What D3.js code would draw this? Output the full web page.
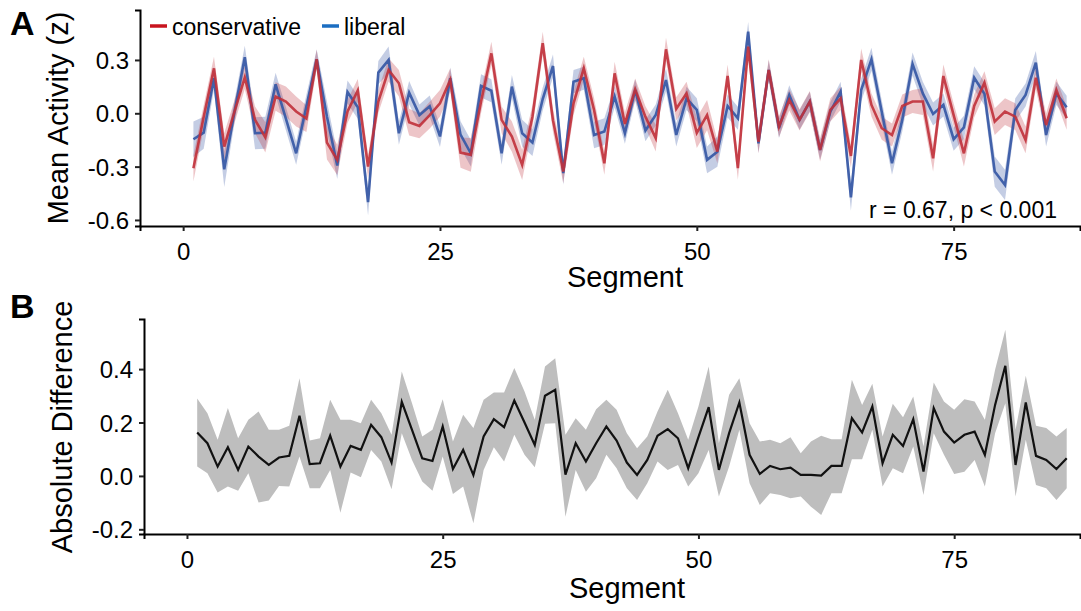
<!DOCTYPE html>
<html>
<head>
<meta charset="utf-8">
<script src="https://cdn.jsdelivr.net/npm/d3@7"></script>
<style>
    body { margin: 0; background: #fff; }
    svg { font-family: "Liberation Sans", Arial, Helvetica, sans-serif; }
</style>
</head>
<body>
<div id="chart"></div>
<script>
// segments 1..86
var segments = d3.range(1, 87);

var conservative = [-0.309,-0.02,0.253,-0.187,0.01,0.202,-0.037,-0.135,0.094,0.066,
    0.01,-0.03,0.304,-0.165,-0.262,0.01,0.128,-0.30,0.066,0.244,
    0.169,-0.05,-0.071,-0.01,0.056,0.187,-0.221,-0.234,0.066,0.337,
    -0.037,-0.131,-0.29,-0.019,0.394,-0.04,-0.328,0.056,0.253,0.019,
    -0.281,0.225,-0.06,0.135,-0.02,-0.14,0.36,0.025,0.112,-0.11,
    -0.01,-0.216,0.21,-0.309,0.375,-0.16,0.244,-0.075,0.075,-0.037,
    0.066,-0.206,0.019,0.084,-0.24,0.3,0.047,-0.084,-0.122,0.041,
    0.066,0.066,-0.253,0.21,-0.01,-0.225,0.041,0.172,-0.047,0.009,
    -0.019,-0.15,0.2,-0.066,0.131,-0.028];

var conservativeSE = [0.075,0.065,0.065,0.075,0.065,0.065,0.075,0.085,0.08,0.085,
    0.085,0.075,0.055,0.095,0.085,0.065,0.065,0.065,0.065,0.065,
    0.075,0.075,0.07,0.075,0.075,0.065,0.085,0.095,0.065,0.065,
    0.075,0.085,0.085,0.065,0.065,0.065,0.065,0.065,0.065,0.065,
    0.065,0.065,0.065,0.06,0.06,0.075,0.065,0.065,0.065,0.085,
    0.085,0.065,0.065,0.065,0.065,0.065,0.06,0.06,0.06,0.06,
    0.06,0.065,0.065,0.065,0.065,0.065,0.065,0.065,0.065,0.065,
    0.065,0.075,0.075,0.065,0.065,0.075,0.065,0.065,0.075,0.075,
    0.075,0.075,0.065,0.065,0.065,0.065];

var liberal = [-0.146,-0.109,0.197,-0.315,0.01,0.315,-0.112,-0.109,0.163,-0.03,
    -0.225,0.04,0.304,-0.02,-0.294,0.12,0.034,-0.50,0.229,0.30,
    -0.112,0.116,-0.01,0.04,-0.13,0.197,-0.12,-0.225,0.154,0.127,
    -0.225,0.15,-0.112,-0.165,0.08,0.266,-0.337,0.178,0.197,-0.122,
    -0.103,0.094,-0.112,0.131,-0.097,-0.01,0.187,-0.122,0.084,0.019,
    -0.262,-0.216,0.041,-0.028,0.459,-0.169,0.244,-0.084,0.103,-0.037,
    0.066,-0.206,0.009,0.122,-0.473,0.131,0.304,0.009,-0.281,-0.037,
    0.277,0.112,-0.004,0.047,-0.146,-0.079,0.2,0.109,-0.328,-0.403,
    0.019,0.103,0.285,-0.122,0.112,0.034];

var liberalSE = [0.1,0.09,0.065,0.1,0.065,0.065,0.09,0.09,0.065,0.065,
    0.065,0.065,0.055,0.085,0.075,0.065,0.065,0.075,0.065,0.075,
    0.065,0.065,0.06,0.06,0.06,0.06,0.075,0.075,0.065,0.065,
    0.065,0.065,0.075,0.075,0.065,0.065,0.065,0.065,0.065,0.075,
    0.075,0.06,0.06,0.06,0.06,0.06,0.065,0.065,0.065,0.065,
    0.075,0.085,0.065,0.065,0.055,0.055,0.055,0.055,0.055,0.055,
    0.055,0.055,0.055,0.055,0.075,0.065,0.065,0.065,0.065,0.065,
    0.065,0.065,0.065,0.065,0.065,0.065,0.065,0.065,0.085,0.085,
    0.065,0.065,0.065,0.065,0.065,0.065];

var absDiff = [0.1625,0.1225,0.035,0.1075,0.0225,0.11,0.0725,0.041,0.069,0.075,
    0.225,0.044,0.0475,0.151,0.035,0.1125,0.0975,0.191,0.145,0.05,
    0.2775,0.1725,0.066,0.056,0.185,0.026,0.0975,0.003,0.1475,0.2125,
    0.1825,0.2825,0.2,0.116,0.3,0.3225,0.005,0.1225,0.054,0.1225,
    0.185,0.1325,0.05,0.004,0.06,0.15,0.175,0.141,0.029,0.145,
    0.2575,0.0225,0.16,0.275,0.079,0.0075,0.0375,0.025,0.031,0.004,
    0.004,0.001,0.0375,0.0375,0.216,0.1625,0.26,0.0475,0.154,0.1125,
    0.2125,0.016,0.254,0.166,0.125,0.154,0.166,0.079,0.266,0.4125,
    0.041,0.275,0.075,0.06,0.026,0.066];

var absDiffHi = [0.29,0.235,0.135,0.254,0.141,0.21,0.241,0.1725,0.1725,0.1875,
    0.366,0.1325,0.141,0.285,0.21,0.21,0.1975,0.285,0.235,0.154,
    0.391,0.2725,0.1475,0.1725,0.2875,0.129,0.229,0.179,0.285,0.3125,
    0.3125,0.404,0.316,0.21,0.41,0.441,0.154,0.216,0.1725,0.25,
    0.285,0.2475,0.16,0.104,0.1475,0.241,0.3225,0.235,0.135,0.26,
    0.41,0.1225,0.304,0.366,0.1975,0.129,0.135,0.1225,0.145,0.085,
    0.129,0.15,0.1375,0.1375,0.36,0.266,0.345,0.1475,0.27,0.22,
    0.2975,0.11,0.35,0.279,0.2475,0.2875,0.279,0.21,0.3975,0.5475,
    0.1725,0.375,0.1875,0.179,0.1475,0.179];

var absDiffLo = [0.035,0.01,-0.0625,-0.04,-0.056,0.01,-0.1,-0.0925,-0.0375,-0.04,
    0.0725,-0.046,-0.046,0.0225,-0.1375,0.0125,-0.005,0.0975,0.054,-0.05,
    0.16,0.06,-0.021,-0.056,0.0725,-0.0675,-0.04,-0.1775,0.0225,0.1075,
    0.054,0.154,0.079,0.0325,0.195,0.1975,-0.1525,0.0225,-0.059,-0.009,
    0.079,0.029,-0.046,-0.09,-0.0275,0.054,0.0225,0.041,-0.04,0.01,
    0.0975,-0.0775,0.035,0.1725,-0.0275,-0.109,-0.065,-0.071,-0.084,-0.0775,
    -0.115,-0.146,-0.065,-0.065,0.0625,0.0625,0.1725,-0.04,0.029,0.01,
    0.11,-0.071,0.16,0.079,0.0075,0.016,0.06,-0.04,0.16,0.2725,
    -0.0775,0.135,-0.034,-0.046,-0.09,-0.046];

var xTicks = [0, 25, 50, 75];
var yTicksA = [-0.6, -0.3, 0, 0.3];
var yTicksB = [-0.2, 0, 0.2, 0.4];
var statText = "r = 0.67, p < 0.001";

var width = 1081, height = 611;
var red = "#c0303a", blue = "#3a5ba6";

var svg = d3.select("#chart").append("svg")
    .attr("width", width)
    .attr("height", height);

function fmt(d) { return d.toFixed(1); }

// draw axes for a panel
function drawAxes(g, x, y, yTicks, left, bottom) {
    var xAxis = g.append("g")
        .attr("transform", "translate(0," + bottom + ")")
        .call(d3.axisBottom(x).tickValues(xTicks).tickSize(5).tickPadding(6).tickFormat(d3.format("d")));
    var yAxis = g.append("g")
        .attr("transform", "translate(" + left + ",0)")
        .call(d3.axisLeft(y).tickValues(yTicks).tickSize(5).tickPadding(6).tickFormat(fmt));
    [xAxis, yAxis].forEach(function(a) {
        a.select(".domain").attr("stroke", "#000").attr("stroke-width", 2);
        a.selectAll(".tick line").attr("stroke", "#222").attr("stroke-width", 2);
        a.selectAll(".tick text").attr("fill", "#000").style("font-size", "24px");
    });
    xAxis.selectAll(".tick text").attr("dy", "0.95em");
    yAxis.selectAll(".tick text").attr("dy", "0.36em");
}

// ---------- Panel A ----------
var xA = d3.scaleLinear().domain([-4.2, 87.3]).range([140, 1080]);
var yA = d3.scaleLinear().domain([-0.634, 0.581]).range([226, 10]);
var gA = svg.append("g");

function ribbon(x, y, m, se) {
    return d3.area()
        .x(function(d, i) { return x(segments[i]); })
        .y0(function(d, i) { return y(m[i] - se[i]); })
        .y1(function(d, i) { return y(m[i] + se[i]); })(segments);
}
function line(x, y, m) {
    return d3.line()
        .x(function(d, i) { return x(segments[i]); })
        .y(function(d, i) { return y(m[i]); })(segments);
}

gA.append("path").attr("d", ribbon(xA, yA, liberal, liberalSE))
    .attr("fill", blue).attr("opacity", 0.3);
gA.append("path").attr("d", ribbon(xA, yA, conservative, conservativeSE))
    .attr("fill", red).attr("opacity", 0.28);
gA.append("path").attr("d", line(xA, yA, liberal))
    .attr("fill", "none").attr("stroke", blue).attr("stroke-width", 2.6).attr("opacity", 0.95);
gA.append("path").attr("d", line(xA, yA, conservative))
    .attr("fill", "none").attr("stroke", red).attr("stroke-width", 2.6).attr("opacity", 0.9);

drawAxes(gA, xA, yA, yTicksA, 140, 226);

// legend
var legend = [{ name: "conservative", color: "#c8141e", x: 150 }, { name: "liberal", color: "#1b6ec2", x: 322 }];
legend.forEach(function(l) {
    gA.append("line").attr("x1", l.x).attr("x2", l.x + 17).attr("y1", 26).attr("y2", 26)
        .attr("stroke", l.color).attr("stroke-width", 3.5);
    gA.append("text").attr("x", l.x + 22).attr("y", 35).style("font-size", "23px").text(l.name);
});

gA.append("text").attr("x", 1057).attr("y", 218).attr("text-anchor", "end")
    .style("font-size", "23px").text(statText);

gA.append("text").attr("x", 625).attr("y", 287).attr("text-anchor", "middle")
    .style("font-size", "29px").text("Segment");
gA.append("text").attr("transform", "translate(68,118) rotate(-90)").attr("text-anchor", "middle")
    .style("font-size", "29px").text("Mean Activity (z)");
gA.append("text").attr("x", 10).attr("y", 35).style("font-size", "34px").style("font-weight", "bold").text("A");

// ---------- Panel B ----------
var xB = d3.scaleLinear().domain([-4.2, 87.3]).range([144, 1080]);
var yB = d3.scaleLinear().domain([-0.2175, 0.5876]).range([534, 319]);
var gB = svg.append("g");

gB.append("path")
    .attr("d", d3.area()
        .x(function(d, i) { return xB(segments[i]); })
        .y0(function(d, i) { return yB(absDiffLo[i]); })
        .y1(function(d, i) { return yB(absDiffHi[i]); })(segments))
    .attr("fill", "#bebebe");
gB.append("path").attr("d", line(xB, yB, absDiff))
    .attr("fill", "none").attr("stroke", "#111").attr("stroke-width", 2.2);

drawAxes(gB, xB, yB, yTicksB, 144, 534);

gB.append("text").attr("x", 627).attr("y", 598).attr("text-anchor", "middle")
    .style("font-size", "29px").text("Segment");
gB.append("text").attr("transform", "translate(72,427) rotate(-90)").attr("text-anchor", "middle")
    .style("font-size", "29px").text("Absolute Difference");
gB.append("text").attr("x", 10).attr("y", 318).style("font-size", "34px").style("font-weight", "bold").text("B");
</script>
</body>
</html>
